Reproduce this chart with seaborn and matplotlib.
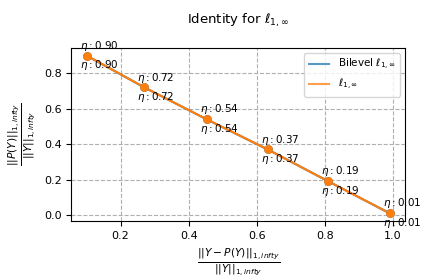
import matplotlib
matplotlib.use("Agg")
import matplotlib.pyplot as plt
from matplotlib.lines import Line2D
import seaborn as sns
import pandas as pd

eta = [0.90, 0.72, 0.54, 0.37, 0.19, 0.01]
rel_err = [0.10, 0.27, 0.453, 0.632, 0.81, 0.99]
rel_norm = [0.90, 0.72, 0.54, 0.37, 0.19, 0.01]
series = ["Bilevel $\\ell_{1,\\infty}$", "$\\ell_{1,\\infty}$"]

fig, ax = plt.subplots(figsize=(4.24, 2.8), dpi=100)
colors = ["#1f77b4", "#ff7f0e"]
handles = []
for name, c in zip(series, colors):
    df = pd.DataFrame({"x": rel_err, "y": rel_norm})
    sns.lineplot(data=df, x="x", y="y", ax=ax, color=c, sort=False, legend=False)
    sns.scatterplot(data=df, x="x", y="y", ax=ax, color=c, s=40, linewidth=0,
                    legend=False, zorder=3)
    handles.append(Line2D([], [], color=c, alpha=0.75, lw=1.5, label=name))
    for e, x, y in zip(eta, rel_err, rel_norm):
        if name == series[0]:
            ax.annotate(f"$\\eta: ${e:.2f}", (x, y), textcoords="offset points",
                        xytext=(-5, 5), fontsize=7.5)
        else:
            ax.annotate(f"$\\eta: ${e:.2f}", (x, y), textcoords="offset points",
                        xytext=(-5, -9), fontsize=7.5)

ax.grid(True, linestyle="--", color="#b0b0b0")
ax.set_title("Identity for $\\ell_{1,\\infty}$", fontsize=9.5, pad=17)
ax.set_xlabel(r"$\frac{||Y-P(Y)||_{1,infty}}{||Y||_{1,infty}}$", fontsize=11)
ax.set_ylabel(r"$\frac{||P(Y)||_{1,infty}}{||Y||_{1,infty}}$", fontsize=11)
ax.set_xticks([0.2, 0.4, 0.6, 0.8, 1.0])
ax.set_yticks([0.0, 0.2, 0.4, 0.6, 0.8])
ax.tick_params(labelsize=8)
ax.set_xlim(0.055, 1.035)
ax.set_ylim(-0.035, 0.945)
ax.legend(handles=handles, fontsize=7.5, loc="upper right")
fig.subplots_adjust(left=0.168, right=0.955, top=0.83, bottom=0.21)
fig.savefig("out.png", dpi=100)
